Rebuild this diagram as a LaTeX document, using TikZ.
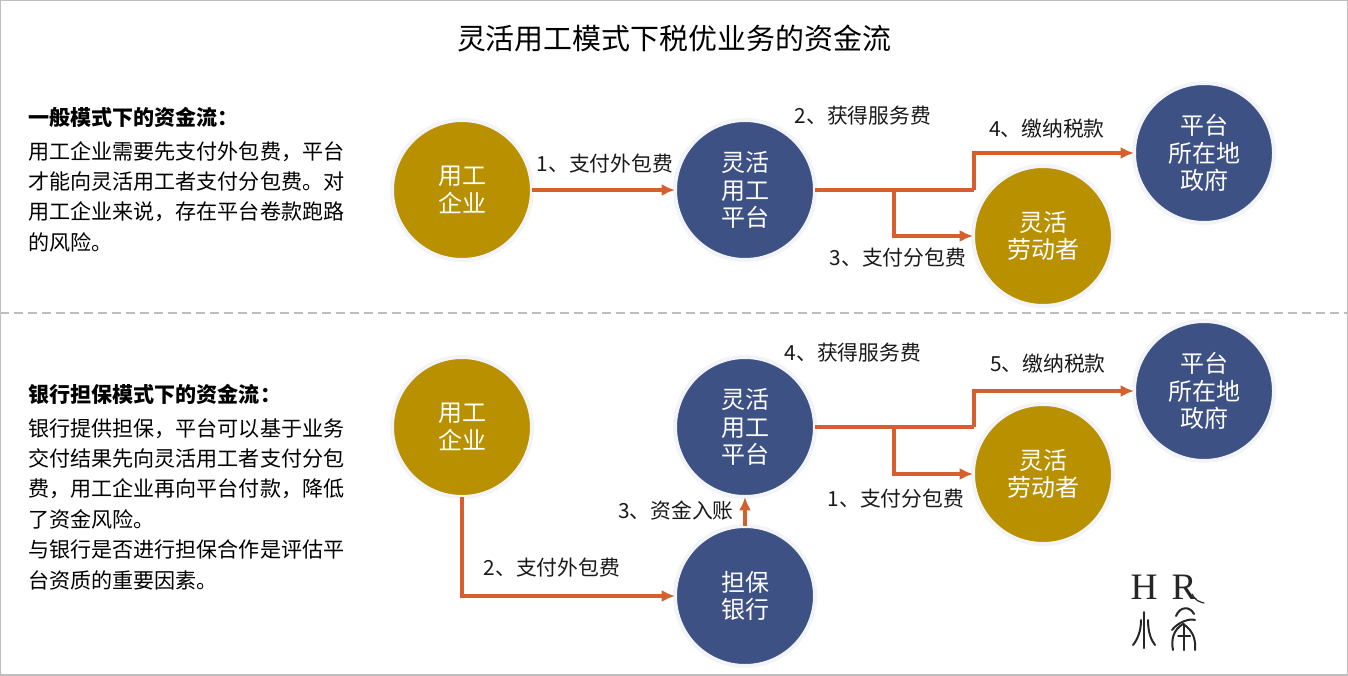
\documentclass[tikz,border=0pt]{standalone}
\usepackage{fontspec}
\setmainfont{Noto Sans CJK SC}
\newfontfamily\logofont{Liberation Serif}
\usetikzlibrary{arrows.meta}
\definecolor{gold}{RGB}{184,144,0}
\definecolor{navy}{RGB}{62,81,132}
\definecolor{flow}{RGB}{214,95,46}
\definecolor{ring}{RGB}{242,244,248}
\definecolor{frame}{RGB}{190,190,190}
\tikzset{
  goldnode/.style={circle,fill=gold,draw=ring,line width=3pt,minimum size=105pt,inner sep=0pt,outer sep=0pt,align=center,text=white,font=\fontsize{18}{20.5}\selectfont},
  navynode/.style={goldnode,fill=navy},
  flowline/.style={draw=flow,line width=2.6pt,-{Latex[length=10pt,width=9pt]}},
  flowstub/.style={draw=flow,line width=2.6pt},
  flowlabel/.style={anchor=center,inner sep=0.75pt,text=black!90,font=\fontsize{15.6}{19}\selectfont},
  bodytext/.style={anchor=north west,inner sep=0pt,align=left,text=black,font=\fontsize{15.8}{22.8}\selectfont},
  headtext/.style={anchor=west,inner sep=0pt,text=black,font=\fontsize{15.8}{19}\selectfont\bfseries},
  logoline/.style={draw=black!85,line width=1.5pt,line cap=round}
}
\begin{document}
\begin{tikzpicture}[x=0.75pt,y=0.75pt,yscale=-1,xscale=1]
\useasboundingbox (0,0) rectangle (1348,675);
%Shape: Frame
\draw [frame,line width=1.5pt] (0,0) rectangle (1348,675);
%Straight Lines: section divider
\coordinate (divL) at (0,313);
\coordinate (divR) at (1348,313);
\draw [frame,line width=1.2pt,dash pattern=on 7pt off 3.5pt] (divL) -- (divR);

% Text Node
\node (title) at (674,38) [inner sep=0.75pt,text=black,font=\fontsize{21.7}{26}\selectfont] {灵活用工模式下税优业务的资金流};
% Text Node
\node (headA) at (28,117) [headtext] {一般模式下的资金流：};
\node (bodyA) at (28,141) [bodytext] {用工企业需要先支付外包费，平台\\才能向灵活用工者支付分包费。对\\用工企业来说，存在平台卷款跑路\\的风险。};
\node (headB) at (28,394) [headtext] {银行担保模式下的资金流：};
\node (bodyB) at (28,418) [bodytext] {银行提供担保，平台可以基于业务\\交付结果先向灵活用工者支付分包\\费，用工企业再向平台付款，降低\\了资金风险。\\与银行是否进行担保合作是评估平\\台资质的重要因素。};

%Upper flow
\node (firmA) at (462,190) [goldnode] {用工\\企业};
\node (platA) at (745,190) [navynode] {灵活\\用工\\平台};
\node (workA) at (1043,236) [goldnode] {灵活\\劳动者};
\node (govA) at (1204,153) [navynode] {平台\\所在地\\政府};
\coordinate (splitA) at (894,190);
\coordinate (bendA) at (974,190);
\draw [flowline] (firmA) -- (platA);
\draw [flowstub] (platA) -- (bendA);
\draw [flowline] (bendA) |- (govA);
\draw [flowline] (splitA) |- (workA);
\node (payA) at (605,164) [flowlabel] {1、支付外包费};
\node (feeA) at (863,116) [flowlabel] {2、获得服务费};
\node (subA) at (898,258) [flowlabel] {3、支付分包费};
\node (taxA) at (1047,129) [flowlabel] {4、缴纳税款};

%Lower flow
\node (firmB) at (462,427) [goldnode] {用工\\企业};
\node (platB) at (745,427) [navynode] {灵活\\用工\\平台};
\node (workB) at (1043,474) [goldnode] {灵活\\劳动者};
\node (govB) at (1204,391) [navynode] {平台\\所在地\\政府};
\node (bankB) at (745,596) [navynode] {担保\\银行};
\coordinate (splitB) at (894,427);
\coordinate (bendB) at (974,427);
\draw [flowstub] (platB) -- (bendB);
\draw [flowline] (bendB) |- (govB);
\draw [flowline] (splitB) |- (workB);
\draw [flowline] (firmB) |- (bankB);
\draw [flowline] (bankB) -- (platB);
\node (subB) at (896,499) [flowlabel] {1、支付分包费};
\node (payB) at (552,568) [flowlabel] {2、支付外包费};
\node (cashB) at (676,511) [flowlabel] {3、资金入账};
\node (feeB) at (853,353) [flowlabel] {4、获得服务费};
\node (taxB) at (1048,364) [flowlabel] {5、缴纳税款};

%Shape: Logo
\node (logoH) at (1144,587) [inner sep=0pt,text=black!85,font=\logofont\fontsize{28}{28}\selectfont] {H};
\node (logoR) at (1184,587) [inner sep=0pt,text=black!85,font=\logofont\fontsize{28}{28}\selectfont] {R};
\draw [logoline,line width=0.9pt] (1192,594) .. controls (1195,600) and (1199,602) .. (1204,603);
\draw [logoline] (1144,612) -- (1144,648);
\draw [logoline] (1141,620) .. controls (1141,632) and (1137,640) .. (1133,645);
\draw [logoline] (1148,620) .. controls (1148,632) and (1151,640) .. (1155,645);
\draw [logoline] (1176,616) .. controls (1180,606) and (1190,606) .. (1194,614);
\draw [logoline] (1172,630) .. controls (1178,622) and (1190,618) .. (1195,620);
\draw [logoline] (1173,650) .. controls (1171,640) and (1173,630) .. (1183,624) .. controls (1193,630) and (1196,640) .. (1195,650);
\draw [logoline] (1184,624) -- (1184,650);
\draw [logoline] (1178,636) -- (1190,636);
\end{tikzpicture}
\end{document}
